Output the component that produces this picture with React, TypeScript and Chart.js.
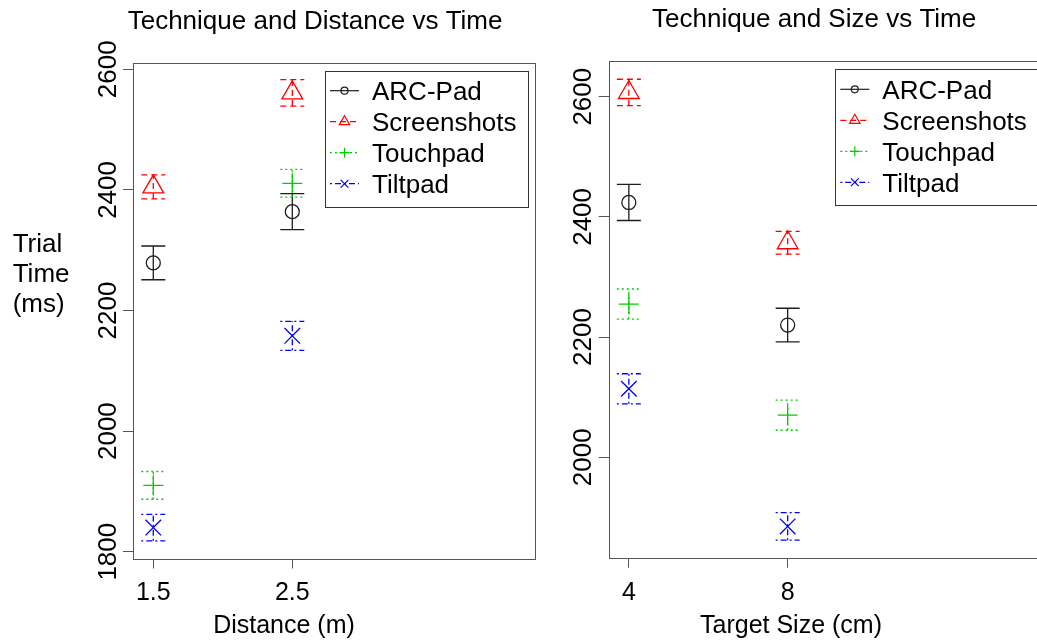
import React, { useEffect, useRef } from 'react';
import { Chart, registerables } from 'chart.js';
import { drawPoint } from 'chart.js/helpers';

Chart.register(...registerables);

const FONT_FAMILY = '"Liberation Sans", Arial, Helvetica, sans-serif';

// Techniques shown in both panels
const techniques = ['ARC-Pad', 'Screenshots', 'Touchpad', 'Tiltpad'];
const techniqueColors = ['#1e1e1e', '#ff0000', '#00cd00', '#0000ff'];
const techniqueMarkers = ['circle', 'triangle', 'cross', 'crossRot'];
const markerRadii = [7, 12, 10, 11];
const legendMarkerRadii = [3.5, 6, 5, 5.5];
const techniqueDashes: number[][] = [[], [6, 4], [2, 3], [2, 3, 6, 3]];

// Panel 1: mean trial time (ms) by distance (m)
const distances = [1.5, 2.5];
const distanceTickLabels = ['1.5', '2.5'];
const distanceTimeTicks = [1800, 2000, 2200, 2400, 2600];
const distArcPad = [2279, 2364];
const distScreenshots = [2405, 2561];
const distTouchpad = [1910, 2411];
const distTiltpad = [1840, 2158];
// standard errors
const distArcPadSE = [28, 30];
const distScreenshotsSE = [20, 22];
const distTouchpadSE = [23, 23];
const distTiltpadSE = [22, 24];

// Panel 2: mean trial time (ms) by target size (cm)
const sizes = [4, 8];
const sizeTickLabels = ['4', '8'];
const sizeTimeTicks = [2000, 2200, 2400, 2600];
const sizeArcPad = [2424, 2220];
const sizeScreenshots = [2607, 2357];
const sizeTouchpad = [2255, 2070];
const sizeTiltpad = [2114, 1885];
// standard errors
const sizeArcPadSE = [30, 28];
const sizeScreenshotsSE = [22, 19];
const sizeTouchpadSE = [25, 25];
const sizeTiltpadSE = [25, 23];

type PanelLayout = {
  left: number;
  width: number;
  padding: { left: number; right: number; top: number; bottom: number };
  yAxisWidth: number;
  yTickPadding: number;
  title: { x: number; y: number };
  xTitle: { x: number; y: number };
  yTitle?: { x: number; y: number; lineHeight: number };
  legend: { x: number; y: number; w: number; h: number };
};

type PanelProps = {
  title: string;
  xTitle: string;
  yTitleLines?: string[];
  xValues: number[];
  xTickLabels: string[];
  yTicks: number[];
  means: number[][];
  errors: number[][];
  xRange: [number, number];
  yRange: [number, number];
  layout: PanelLayout;
};

const HEIGHT = 643;

function Panel(props: PanelProps) {
  const ref = useRef<HTMLCanvasElement | null>(null);

  useEffect(() => {
    const canvas = ref.current;
    if (!canvas) return;
    const { layout, xValues, xTickLabels, yTicks, means, errors } = props;

    const decor = {
      id: 'panelDecor',
      afterDatasetsDraw(chart: any) {
        const { ctx, chartArea: a, scales } = chart;
        const xs = scales.x;
        const ys = scales.y;
        ctx.save();

        // plot frame
        ctx.setLineDash([]);
        ctx.strokeStyle = '#555';
        ctx.lineWidth = 1;
        ctx.strokeRect(
          Math.round(a.left) + 0.5,
          Math.round(a.top) + 0.5,
          Math.round(a.right - a.left),
          Math.round(a.bottom - a.top)
        );

        // error bars (mean ± SE)
        means.forEach((row, i) => {
          ctx.strokeStyle = techniqueColors[i];
          ctx.lineWidth = 1.3;
          ctx.setLineDash(techniqueDashes[i]);
          row.forEach((m, j) => {
            const px = xs.getPixelForValue(xValues[j]);
            const top = ys.getPixelForValue(m + errors[i][j]);
            const bot = ys.getPixelForValue(m - errors[i][j]);
            ctx.beginPath();
            ctx.moveTo(px, bot);
            ctx.lineTo(px, top);
            ctx.moveTo(px - 12, top);
            ctx.lineTo(px + 12, top);
            ctx.moveTo(px - 12, bot);
            ctx.lineTo(px + 12, bot);
            ctx.stroke();
          });
        });

        // legend
        const lg = layout.legend;
        ctx.setLineDash([]);
        ctx.strokeStyle = '#333';
        ctx.lineWidth = 1;
        ctx.fillStyle = '#fff';
        ctx.fillRect(lg.x, lg.y, lg.w, lg.h);
        ctx.strokeRect(Math.round(lg.x) + 0.5, Math.round(lg.y) + 0.5, Math.round(lg.w), Math.round(lg.h));
        ctx.font = `26px ${FONT_FAMILY}`;
        ctx.textAlign = 'left';
        ctx.textBaseline = 'alphabetic';
        chart.data.datasets.forEach((ds: any, i: number) => {
          const cy = lg.y + 20 + i * 31;
          ctx.strokeStyle = techniqueColors[i];
          ctx.lineWidth = 1.2;
          ctx.setLineDash(techniqueDashes[i]);
          ctx.beginPath();
          ctx.moveTo(lg.x + 5, cy);
          ctx.lineTo(lg.x + 34, cy);
          ctx.stroke();
          ctx.setLineDash([]);
          ctx.fillStyle = 'rgba(0,0,0,0)';
          drawPoint(
            ctx,
            { pointStyle: techniqueMarkers[i] as any, radius: legendMarkerRadii[i], borderWidth: 1.2, rotation: 0 } as any,
            lg.x + 19.5,
            cy
          );
          ctx.fillStyle = '#000';
          ctx.fillText(ds.label, lg.x + 47, cy + 9.3);
        });

        // titles
        ctx.fillStyle = '#000';
        ctx.font = `26px ${FONT_FAMILY}`;
        ctx.textAlign = 'left';
        ctx.fillText(props.title, layout.title.x, layout.title.y);
        ctx.font = `25px ${FONT_FAMILY}`;
        ctx.textAlign = 'center';
        ctx.fillText(props.xTitle, layout.xTitle.x, layout.xTitle.y);
        if (props.yTitleLines && layout.yTitle) {
          ctx.font = `26px ${FONT_FAMILY}`;
          ctx.textAlign = 'left';
          props.yTitleLines.forEach((line, k) => {
            ctx.fillText(line, layout.yTitle!.x, layout.yTitle!.y + k * layout.yTitle!.lineHeight);
          });
        }
        ctx.restore();
      },
    };

    const chart = new Chart(canvas, {
      type: 'scatter',
      data: {
        datasets: techniques.map((t, i) => ({
          label: t,
          data: xValues.map((x, j) => ({ x, y: means[i][j] })),
          pointStyle: techniqueMarkers[i] as any,
          pointRadius: markerRadii[i],
          pointHoverRadius: markerRadii[i],
          pointBorderColor: techniqueColors[i],
          pointBackgroundColor: 'rgba(0,0,0,0)',
          pointBorderWidth: 1.3,
          showLine: false,
        })),
      },
      options: {
        animation: false,
        responsive: false,
        events: [],
        layout: { padding: layout.padding },
        plugins: {
          legend: { display: false },
          title: { display: false },
          tooltip: { enabled: false },
        },
        scales: {
          x: {
            type: 'linear',
            min: props.xRange[0],
            max: props.xRange[1],
            afterBuildTicks: (scale: any) => {
              scale.ticks = xValues.map((value) => ({ value }));
            },
            afterFit: (scale: any) => {
              scale.height = 60;
            },
            ticks: {
              autoSkip: false,
              maxRotation: 0,
              minRotation: 0,
              padding: 10,
              color: '#000',
              font: { family: FONT_FAMILY, size: 25 },
              callback: (value: any) => xTickLabels[xValues.indexOf(Number(value))] ?? '',
            },
            grid: {
              drawOnChartArea: false,
              drawTicks: true,
              tickLength: 10,
              color: '#555',
              lineWidth: 1,
            },
            border: { display: false },
          },
          y: {
            type: 'linear',
            min: props.yRange[0],
            max: props.yRange[1],
            afterBuildTicks: (scale: any) => {
              scale.ticks = yTicks.map((value) => ({ value }));
            },
            afterFit: (scale: any) => {
              scale.width = layout.yAxisWidth;
            },
            ticks: {
              autoSkip: false,
              minRotation: 90,
              maxRotation: 90,
              crossAlign: 'center',
              padding: layout.yTickPadding,
              color: '#000',
              font: { family: FONT_FAMILY, size: 26 },
              callback: (value: any) => String(value),
            },
            grid: {
              drawOnChartArea: false,
              drawTicks: true,
              tickLength: 10,
              color: '#555',
              lineWidth: 1,
            },
            border: { display: false },
          },
        },
      },
      plugins: [decor as any],
    });

    return () => chart.destroy();
  }, []);

  const { left, width } = props.layout;
  return (
    <canvas
      ref={ref}
      width={width}
      height={HEIGHT}
      style={{ position: 'absolute', left, top: 0, width, height: HEIGHT, display: 'block' }}
    />
  );
}

const distanceLayout: PanelLayout = {
  left: 0,
  width: 560,
  padding: { left: 73, right: 25, top: 63, bottom: 24.5 },
  yAxisWidth: 60,
  yTickPadding: -14.5,
  title: { x: 127.7, y: 29.3 },
  xTitle: { x: 284, y: 633.3 },
  yTitle: { x: 12.7, y: 251.7, lineHeight: 30 },
  legend: { x: 325, y: 70.7, w: 203, h: 136 },
};

const sizeLayout: PanelLayout = {
  left: 560,
  width: 500,
  padding: { left: 8.7, right: 10, top: 61, bottom: 25.3 },
  yAxisWidth: 40,
  yTickPadding: -14,
  title: { x: 92, y: 26.7 },
  xTitle: { x: 231, y: 633.3 },
  legend: { x: 275.3, y: 69.3, w: 203, h: 136 },
};

export default function App() {
  return (
    <div
      style={{
        position: 'absolute',
        left: 0,
        top: 0,
        width: 1037,
        height: HEIGHT,
        overflow: 'hidden',
        background: '#fff',
      }}
    >
      <Panel
        title="Technique and Distance vs Time"
        xTitle="Distance (m)"
        yTitleLines={['Trial', 'Time', '(ms)']}
        xValues={distances}
        xTickLabels={distanceTickLabels}
        yTicks={distanceTimeTicks}
        means={[distArcPad, distScreenshots, distTouchpad, distTiltpad]}
        errors={[distArcPadSE, distScreenshotsSE, distTouchpadSE, distTiltpadSE]}
        xRange={[1.354, 4.246]}
        yRange={[1788.7, 2610.5]}
        layout={distanceLayout}
      />
      <Panel
        title="Technique and Size vs Time"
        xTitle="Target Size (cm)"
        xValues={sizes}
        xTickLabels={sizeTickLabels}
        yTicks={sizeTimeTicks}
        means={[sizeArcPad, sizeScreenshots, sizeTouchpad, sizeTiltpad]}
        errors={[sizeArcPadSE, sizeScreenshotsSE, sizeTouchpadSE, sizeTiltpadSE]}
        xRange={[3.4925, 14.525]}
        yRange={[1832.9, 2659.4]}
        layout={sizeLayout}
      />
    </div>
  );
}
